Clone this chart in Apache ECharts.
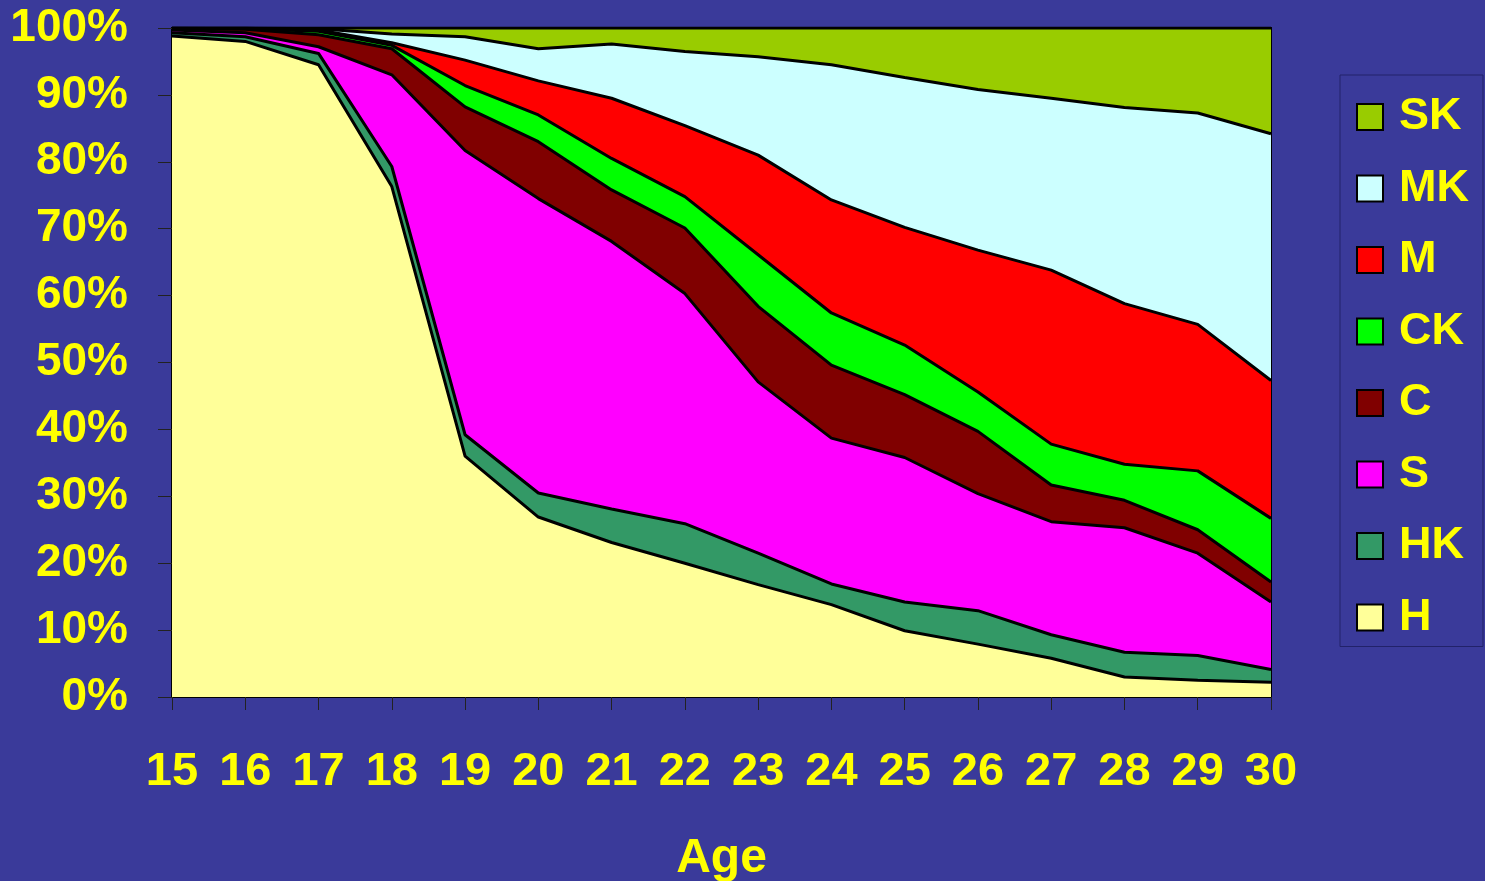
<!DOCTYPE html>
<html>
<head>
<meta charset="utf-8">
<title>Age distribution</title>
<script src="https://cdn.jsdelivr.net/npm/echarts@6/dist/echarts.min.js"></script>
<style>
  html, body { margin: 0; padding: 0; background: #3a3a9a; }
  #chart { width: 1485px; height: 881px; }
</style>
</head>
<body>
<div id="chart"></div>
<script>
// Ages on the horizontal axis
const ages = ['15','16','17','18','19','20','21','22','23','24','25','26','27','28','29','30'];

// Share (%) of each group per age, bottom layer first
const H  = [98.8, 98.0, 94.5, 76.3, 36.0, 26.9, 23.1, 20.0, 16.8, 13.8,  9.9,  7.9,  5.8,  3.0,  2.5,  2.2];
const HK = [ 0.5,  0.7,  1.7,  3.0,  3.2,  3.6,  5.0,  5.9,  4.7,  3.1,  4.3,  5.0,  3.5,  3.7,  3.7,  1.9];
const S  = [ 0.4,  0.6,  1.0, 13.7, 42.5, 44.0, 40.0, 34.4, 25.6, 21.8, 21.6, 17.5, 16.9, 18.6, 15.3, 10.1];
const C  = [ 0.2,  0.5,  1.8,  3.9,  6.5,  8.5,  7.7,  9.8, 11.3, 10.9,  9.4,  9.3,  5.5,  4.1,  3.5,  3.0];
const CK = [0.05,  0.1,  0.5,  0.5,  3.2,  4.0,  4.7,  4.7,  7.7,  7.8,  7.4,  5.9,  6.1,  5.4,  8.8,  9.5];
const M  = [0.02, 0.05,  0.2,  0.4,  3.8,  5.1,  9.0, 10.6, 14.9, 16.9, 17.6, 21.2, 26.0, 24.0, 21.9, 20.6];
const MK = [0.03, 0.05,  0.2,  1.3,  3.5,  4.8,  8.1, 11.1, 14.7, 20.2, 22.4, 24.0, 25.7, 29.3, 31.6, 36.9];
const SK = [ 0.0,  0.0,  0.1,  0.9,  1.3,  3.1,  2.4,  3.5,  4.3,  5.5,  7.4,  9.2, 10.5, 11.9, 12.7, 15.8];

// Y-axis tick labels
const yTicks = ['0%','10%','20%','30%','40%','50%','60%','70%','80%','90%','100%'];

const groups = [
  { name: 'H',  data: H,  color: '#ffff99' },
  { name: 'HK', data: HK, color: '#339966' },
  { name: 'S',  data: S,  color: '#ff00ff' },
  { name: 'C',  data: C,  color: '#800000' },
  { name: 'CK', data: CK, color: '#00ff00' },
  { name: 'M',  data: M,  color: '#ff0000' },
  { name: 'MK', data: MK, color: '#ccffff' },
  { name: 'SK', data: SK, color: '#99cc00' }
];

const FONT = '"Liberation Sans", Arial, sans-serif';
const YELLOW = '#ffff00';

const chart = echarts.init(document.getElementById('chart'), null, { renderer: 'canvas' });

const series = groups.map((g, i) => ({
  name: g.name,
  type: 'line',
  stack: 'total',
  data: g.data,
  color: g.color,
  symbol: 'none',
  // lower layers sit above so each border line stays whole
  z: 20 - i,
  lineStyle: { color: '#000', width: 3 },
  areaStyle: { color: g.color, opacity: 1 },
  emphasis: { disabled: true }
}));

chart.setOption({
  animation: false,
  backgroundColor: '#3a3a9a',
  grid: {
    left: 172, right: 214, top: 28, bottom: 184,
    outerBoundsMode: 'none',
    containLabel: false,
    show: true, borderColor: '#000', borderWidth: 2, backgroundColor: 'transparent'
  },
  legend: {
    orient: 'vertical',
    left: 1340, top: 75,
    data: groups.map(g => g.name).reverse(),
    icon: 'rect',
    itemWidth: 26, itemHeight: 26,
    itemGap: 25.5,
    padding: [19, 14, 6, 16],
    borderColor: '#22226a', borderWidth: 1,
    itemStyle: { borderColor: '#000', borderWidth: 2 },
    textStyle: {
      color: YELLOW, fontFamily: FONT, fontWeight: 'bold', fontSize: 45,
      lineHeight: 46, padding: [0, 0, 0, 11]
    },
    selectedMode: false
  },
  xAxis: {
    type: 'category',
    data: ages,
    boundaryGap: false,
    name: 'Age',
    nameLocation: 'middle',
    nameGap: 138,
    nameTextStyle: { color: YELLOW, fontFamily: FONT, fontWeight: 'bold', fontSize: 48 },
    axisLine: { lineStyle: { color: '#000', width: 2 } },
    axisTick: { show: true, length: 13, lineStyle: { color: '#222', width: 1 } },
    axisLabel: {
      color: YELLOW, fontFamily: FONT, fontWeight: 'bold', fontSize: 47,
      margin: 52, interval: 0
    },
    splitLine: { show: false }
  },
  yAxis: {
    type: 'value',
    min: 0, max: 100, interval: 10,
    axisLine: { show: true, lineStyle: { color: '#000', width: 2 } },
    axisTick: { show: true, length: 14, lineStyle: { color: '#222', width: 1 } },
    axisLabel: {
      color: YELLOW, fontFamily: FONT, fontWeight: 'bold', fontSize: 46,
      margin: 44,
      formatter: v => yTicks[Math.round(v / 10)]
    },
    splitLine: { show: false }
  },
  series: series
});
</script>
</body>
</html>
